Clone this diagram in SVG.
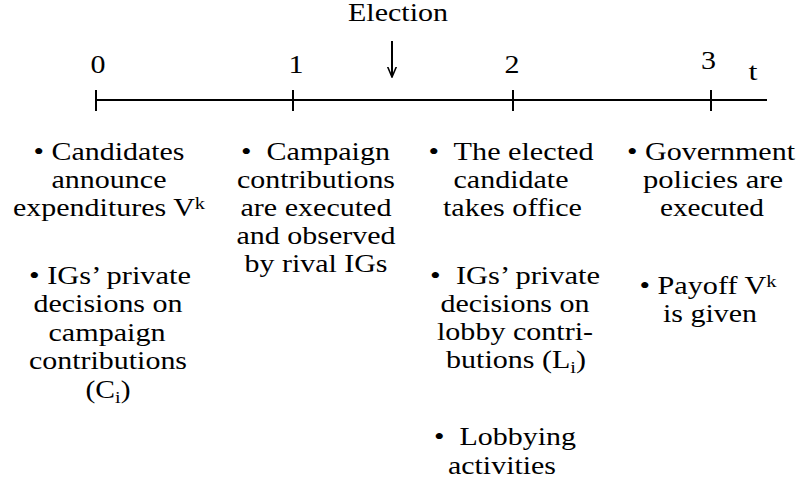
<svg xmlns="http://www.w3.org/2000/svg" width="801" height="482" viewBox="0 0 801 482">
<style>
  .t { font-family: 'Liberation Serif', 'Times New Roman', 'DejaVu Serif', serif; font-size: 25px; text-anchor: middle; fill: #000; }
  .num { font-size: 25px; }
  .ax { stroke: #000; stroke-width: 2; fill: none; }
  .sup { font-size: 17px; }
</style>
<defs>
  <marker id="arr" viewBox="0 0 11 10" refX="10.5" refY="5" markerWidth="11" markerHeight="10" markerUnits="userSpaceOnUse" orient="auto">
    <path d="M0,0.5 L10.5,5 L0,9.5" fill="none" stroke="#000" stroke-width="1.6"/>
  </marker>
</defs>
<rect width="801" height="482" fill="#fff"/>
<g id="connectors">
  <line class="ax" x1="96" y1="100" x2="767" y2="100"/>
  <line class="ax" x1="96" y1="90" x2="96" y2="111"/>
  <line class="ax" x1="293" y1="90" x2="293" y2="111"/>
  <line class="ax" x1="513" y1="90" x2="513" y2="111"/>
  <line class="ax" x1="711" y1="90" x2="711" y2="111"/>
  <line class="ax" x1="392" y1="41" x2="392" y2="77" marker-end="url(#arr)"/>
</g>
<g id="axis-labels" class="t">
  <text x="398" y="21" textLength="100" lengthAdjust="spacingAndGlyphs">Election</text>
  <text class="num" x="98" y="73" textLength="15" lengthAdjust="spacingAndGlyphs">0</text>
  <text class="num" x="296" y="73" textLength="15" lengthAdjust="spacingAndGlyphs">1</text>
  <text class="num" x="512" y="73" textLength="15" lengthAdjust="spacingAndGlyphs">2</text>
  <text class="num" x="708.5" y="69" textLength="15" lengthAdjust="spacingAndGlyphs">3</text>
  <text class="num" x="753" y="80" textLength="9" lengthAdjust="spacingAndGlyphs">t</text>
</g>
<g id="node-t0" class="t">
  <text x="109" y="160" textLength="151" lengthAdjust="spacingAndGlyphs">• Candidates</text>
  <text x="109" y="188" textLength="115" lengthAdjust="spacingAndGlyphs">announce</text>
  <text x="109" y="216" textLength="192" lengthAdjust="spacingAndGlyphs">expenditures V<tspan class="sup" dy="-7">k</tspan></text>
  <text x="110" y="284" textLength="162" lengthAdjust="spacingAndGlyphs">• IGs’ private</text>
  <text x="108" y="312" textLength="149" lengthAdjust="spacingAndGlyphs">decisions on</text>
  <text x="107" y="341" textLength="117" lengthAdjust="spacingAndGlyphs">campaign</text>
  <text x="108" y="369" textLength="158" lengthAdjust="spacingAndGlyphs">contributions</text>
  <text x="108" y="398" textLength="45" lengthAdjust="spacingAndGlyphs">(C<tspan class="sup" dy="5">i</tspan><tspan dy="-5">)</tspan></text>
</g>
<g id="node-t1" class="t">
  <text x="315.5" y="160" textLength="149" lengthAdjust="spacingAndGlyphs">•&#160; Campaign</text>
  <text x="316" y="188" textLength="158" lengthAdjust="spacingAndGlyphs">contributions</text>
  <text x="316" y="216" textLength="151" lengthAdjust="spacingAndGlyphs">are executed</text>
  <text x="316" y="244" textLength="159" lengthAdjust="spacingAndGlyphs">and observed</text>
  <text x="316" y="272" textLength="143" lengthAdjust="spacingAndGlyphs">by rival IGs</text>
</g>
<g id="node-t2" class="t">
  <text x="511" y="160" textLength="165" lengthAdjust="spacingAndGlyphs">•&#160; The elected</text>
  <text x="511" y="188" textLength="115" lengthAdjust="spacingAndGlyphs">candidate</text>
  <text x="512.5" y="216" textLength="139" lengthAdjust="spacingAndGlyphs">takes office</text>
  <text x="515" y="284" textLength="170" lengthAdjust="spacingAndGlyphs">•&#160; IGs’ private</text>
  <text x="515" y="312" textLength="149" lengthAdjust="spacingAndGlyphs">decisions on</text>
  <text x="515" y="340" textLength="156" lengthAdjust="spacingAndGlyphs">lobby contri-</text>
  <text x="516" y="368" textLength="140" lengthAdjust="spacingAndGlyphs">butions (L<tspan class="sup" dy="5">i</tspan><tspan dy="-5">)</tspan></text>
  <text x="505" y="445" textLength="142" lengthAdjust="spacingAndGlyphs">•&#160; Lobbying</text>
  <text x="502" y="474" textLength="108" lengthAdjust="spacingAndGlyphs">activities</text>
</g>
<g id="node-t3" class="t">
  <text x="711" y="160" textLength="168" lengthAdjust="spacingAndGlyphs">• Government</text>
  <text x="713" y="188" textLength="140" lengthAdjust="spacingAndGlyphs">policies are</text>
  <text x="712" y="216" textLength="104" lengthAdjust="spacingAndGlyphs">executed</text>
  <text x="708" y="294" textLength="137" lengthAdjust="spacingAndGlyphs">• Payoff V<tspan class="sup" dy="-7">k</tspan></text>
  <text x="710" y="322" textLength="94" lengthAdjust="spacingAndGlyphs">is given</text>
</g>
</svg>
